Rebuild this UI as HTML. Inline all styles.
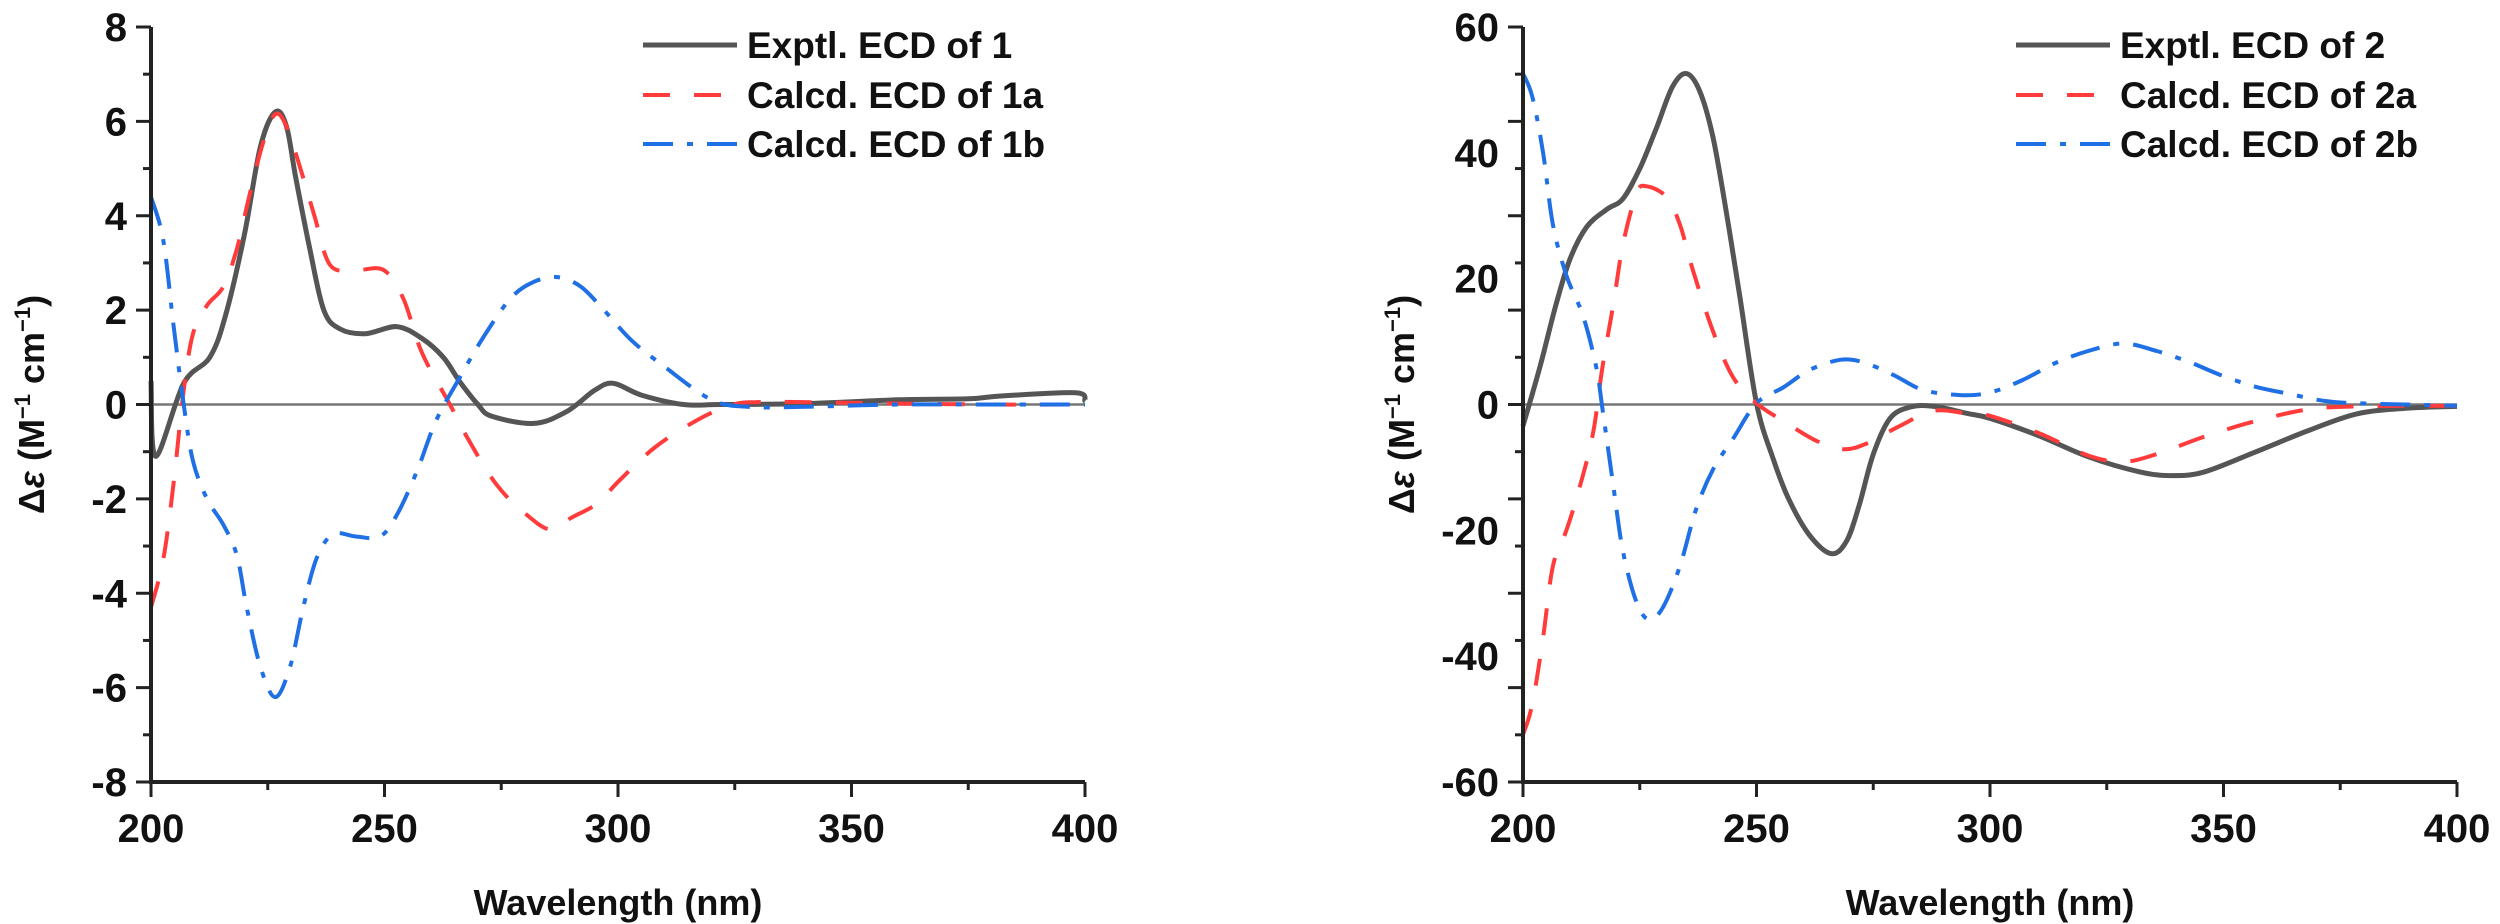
<!DOCTYPE html>
<html><head><meta charset="utf-8">
<style>
html,body{margin:0;padding:0;background:#fff;}
svg{display:block;}
text{font-family:"Liberation Sans",Arial,sans-serif;font-weight:bold;fill:#111;}
</style></head>
<body>
<svg id="root" width="2500" height="924" viewBox="0 0 2500 924" xmlns="http://www.w3.org/2000/svg">
<g id="p1"></g>
<g id="p2"></g>
</svg>
<script>
// ---- Chart 1 data ----
const c1ExpX=[200,201,207,212.6,216,220,223.4,226.6,229,231,234,237,240.5,246,252.6,258,262.6,266,270,273,282,289,295,299,305,314,322,340,360,375,382,398,400];
const c1ExpY=[0.5,-1.1,0.45,1.0,1.9,3.6,5.45,6.2,5.9,4.8,3.3,2.0,1.6,1.5,1.65,1.4,1.0,0.5,0,-0.25,-0.4,-0.15,0.3,0.45,0.2,0,0,0.02,0.1,0.12,0.18,0.25,0.07];
const c1AX=[200,202.6,204.8,207,209,212,215.5,218.4,221,224,226.6,229,232,235,238.4,244,249.8,254,258,264,268,274,280,285.5,290,295.5,300.4,308,317.5,324.7,330,340,360,380,400];
const c1AY=[-4.3,-3.3,-1.7,0.3,1.5,2.1,2.5,3.3,4.4,5.55,6.15,5.9,5.0,4.0,2.95,2.85,2.85,2.25,1.1,0,-0.75,-1.7,-2.3,-2.65,-2.4,-2.1,-1.6,-0.9,-0.3,0,0.05,0.05,0.02,0,0];
const c1BX=[200,202.6,204.8,207,209,212,215.5,218.4,220.5,223.4,226.6,229.8,232.6,235.5,239,244,249,252.6,257,261,266,271,277,282,287,292,297,303,310,320,328,339,360,380,400];
const c1BY=[4.4,3.5,1.7,0,-1.2,-2.0,-2.55,-3.2,-4.3,-5.55,-6.2,-5.55,-4.3,-3.25,-2.75,-2.8,-2.8,-2.35,-1.4,-0.35,0.55,1.4,2.25,2.6,2.7,2.5,2.0,1.35,0.8,0.1,-0.05,-0.05,0,0,0];
const c1YTicks=[8,6,4,2,0,-2,-4,-6,-8];
// ---- Chart 2 data ----
const c2ExpX=[200,203.6,207,210,213.6,217.9,221.4,225,228.6,232,235,237.9,240.7,243.6,246.4,250,253.6,257,261.4,266,269.3,272,275,278.6,283,288,295,300,310.6,321,332,339,346,357,368,378.5,389,400];
const c2ExpY=[-3.4,5.9,15.7,23,28.2,31,32.7,37.5,44,50.5,52.6,49.7,42.4,30.3,17.3,0.2,-8.7,-15.2,-20.8,-23.7,-21.7,-16,-7.9,-2.2,-0.4,-0.3,-1.4,-2.2,-5,-8.3,-10.7,-11.3,-10.7,-7.5,-4.2,-1.5,-0.6,-0.3];
const c2AX=[200,202,204.3,206.4,209.3,212,215,217,219.3,221.4,224.3,226.4,230.7,233.6,236.4,240.7,245,250,255.7,262.9,268.6,273.6,280.7,287.9,295,300,310.6,321,328.5,335.6,346.3,357,368,378.6,400];
const c2AY=[-52.5,-47.6,-37,-25.7,-20,-13.5,-4.6,5.9,15.7,25.4,33.5,34.7,33,28.6,21.3,11.6,4.3,0.2,-2.6,-5.8,-7.1,-6.2,-3.4,-1,-1.4,-1.8,-4.6,-8.1,-9.1,-7.9,-5,-2.6,-0.8,-0.3,-0.2];
const c2BX=[200,202,204.3,206.4,209.3,212.9,215.7,217,219.3,221.4,224.3,227,230,233.6,237,240.7,245,250,255.7,261.4,267.9,272.9,279.3,285.7,293.6,300,307,314,321,328.5,335.7,342.8,350,357,364,371.3,378.5,400];
const c2BY=[52.6,48.9,40,28.6,20.5,14,5.9,-0.6,-12.7,-23.3,-31.4,-34.2,-32.2,-25.7,-16.8,-10.3,-5.4,0.2,2.7,5.5,7.1,6.7,4.7,2.3,1.5,1.9,3.9,6.6,8.5,9.7,8.5,6.7,4.5,2.8,1.7,0.6,0.2,-0.2];
const c2YTicks=[60,40,20,0,-20,-40,-60];
const xTicks=[200,250,300,350,400];
const legend1=["Exptl. ECD of 1","Calcd. ECD of 1a","Calcd. ECD of 1b"];
const legend2=["Exptl. ECD of 2","Calcd. ECD of 2a","Calcd. ECD of 2b"];

const NS="http://www.w3.org/2000/svg";
function mk(parent,tag,attrs){const e=document.createElementNS(NS,tag);for(const k in attrs)e.setAttribute(k,attrs[k]);parent.appendChild(e);return e;}
const STY=[{stroke:"#555",w:5,dash:""},{stroke:"#ff3b3b",w:4,dash:"27 24"},{stroke:"#1f6fe5",w:4,dash:"30 14 6 14"}];

function smoothPath(pts){
  let d="M"+pts[0][0].toFixed(1)+","+pts[0][1].toFixed(1);
  for(let i=0;i<pts.length-1;i++){
    const p0=pts[Math.max(i-1,0)],p1=pts[i],p2=pts[i+1],p3=pts[Math.min(i+2,pts.length-1)];
    const c1x=p1[0]+(p2[0]-p0[0])/6,c1y=p1[1]+(p2[1]-p0[1])/6;
    const c2x=p2[0]-(p3[0]-p1[0])/6,c2y=p2[1]-(p3[1]-p1[1])/6;
    d+=" C"+c1x.toFixed(1)+","+c1y.toFixed(1)+" "+c2x.toFixed(1)+","+c2y.toFixed(1)+" "+p2[0].toFixed(1)+","+p2[1].toFixed(1);
  }
  return d;
}

function drawChart(g,cfg){
  const L=cfg.left,R=cfg.right,T=27,B=782;
  const xS=v=>L+(v-200)/200*(R-L);
  const yS=v=>T+(cfg.ymax-v)/(2*cfg.ymax)*(B-T);
  // zero line
  const z=mk(g,"line",{x1:L,x2:R,y1:yS(0),y2:yS(0),stroke:"#777","stroke-width":2.5});
  
  
  // series
  cfg.series.forEach((s,i)=>{
    const pts=s.x.map((xv,j)=>[xS(xv),yS(s.y[j])]);
    const p=mk(g,"path",{d:smoothPath(pts),fill:"none",stroke:STY[i].stroke,"stroke-width":STY[i].w,"stroke-dasharray":STY[i].dash,"stroke-linejoin":"round"});
    
    
  });
  // axes
  const ax=mk(g,"path",{d:`M${L},${T} L${L},${B} L${R},${B}`,fill:"none",stroke:"#222","stroke-width":4});
  
  
  // y ticks
  const step=cfg.ymax/4;
  for(let v=-cfg.ymax;v<=cfg.ymax+1e-9;v+=step/2){
    const major=Math.abs((v/step)-Math.round(v/step))<1e-6;
    const t=mk(g,"line",{x1:L-(major?15:8),x2:L,y1:yS(v),y2:yS(v),stroke:"#222","stroke-width":3});
    
    
  }
  cfg.yticks.forEach(v=>{
    const t=mk(g,"text",{x:L-24,y:yS(v)+14,"text-anchor":"end","font-size":40});
    t.textContent=String(v);
    
    
  });
  // x ticks
  for(let v=200;v<=400;v+=25){
    const major=v%50===0;
    const t=mk(g,"line",{x1:xS(v),x2:xS(v),y1:B,y2:B+(major?15:8),stroke:"#222","stroke-width":3});
    
    
  }
  xTicks.forEach(v=>{
    const t=mk(g,"text",{x:xS(v),y:842,"text-anchor":"middle","font-size":40});
    t.textContent=String(v);
    
    
  });
  const xt=mk(g,"text",{x:(L+R)/2,y:915,"text-anchor":"middle","font-size":36});
  xt.textContent="Wavelength (nm)";
  
  
  const yt=mk(g,"text",{x:0,y:0,"text-anchor":"middle","font-size":36,transform:`translate(${cfg.ytx},${(T+B)/2}) rotate(-90)`});
  yt.innerHTML='Δ<tspan font-style="italic">ε</tspan> (M<tspan font-size="22" dy="-14">−1</tspan><tspan dy="14"> cm</tspan><tspan font-size="22" dy="-14">−1</tspan><tspan dy="14">)</tspan>';
  
  
  // legend
  cfg.legend.forEach((lab,i)=>{
    const y=[45,95,144][i];
    const ln=mk(g,"line",{x1:cfg.lx,x2:cfg.lx+94,y1:y,y2:y,stroke:STY[i].stroke,"stroke-width":STY[i].w,"stroke-dasharray":STY[i].dash});
    
    
    const t=mk(g,"text",{x:cfg.lx+104,y:y+13,"font-size":37});
    t.textContent=lab;
    
    
  });
}

drawChart(document.getElementById('p1'),{left:151,right:1085,ymax:8,yticks:c1YTicks,ytx:44,lx:643,legend:legend1,
  series:[{x:c1ExpX,y:c1ExpY,name:'exptl-ecd-1-line'},{x:c1AX,y:c1AY,name:'calcd-ecd-1a-line'},{x:c1BX,y:c1BY,name:'calcd-ecd-1b-line'}]});
drawChart(document.getElementById('p2'),{left:1523,right:2457,ymax:60,yticks:c2YTicks,ytx:1414,lx:2016,legend:legend2,
  series:[{x:c2ExpX,y:c2ExpY,name:'exptl-ecd-2-line'},{x:c2AX,y:c2AY,name:'calcd-ecd-2a-line'},{x:c2BX,y:c2BY,name:'calcd-ecd-2b-line'}]});
</script>
</body></html>
